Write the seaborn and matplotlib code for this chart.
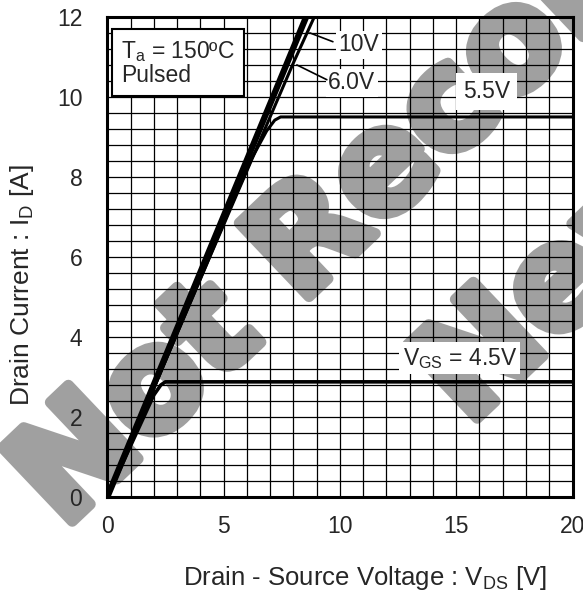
import numpy as np
import pandas as pd
import seaborn as sns
import matplotlib.pyplot as plt
import matplotlib.patheffects as pe

# curves (Ta = 150C, pulsed)
vds_10v = [0.0, 8.55]
id_10v = [0.0, 12.0]

vds_60v = [0.0, 4.0, 8.0, 8.9]
id_60v = [0.0, 5.45, 10.85, 12.0]

vds_55v = [0.0, 4.0, 5.3, 6.2, 6.85, 7.2, 7.45, 20.0]
id_55v = [0.0, 5.45, 7.25, 8.45, 9.15, 9.42, 9.5, 9.5]

vds_45v = [0.0, 1.0, 2.0, 2.3, 2.5, 20.0]
id_45v = [0.0, 1.28, 2.55, 2.8, 2.88, 2.88]

curve_widths = [4.5, 2.2, 2.2, 2.6]

sns.set_style('white')
plt.rcParams['font.family'] = ['Liberation Sans', 'DejaVu Sans']
plt.rcParams['mathtext.default'] = 'regular'

fig = plt.figure(figsize=(5.83, 6.04), dpi=100)
fig.patch.set_facecolor('white')
ax = fig.add_axes([0.184, 0.177, 0.798, 0.795])
ax.patch.set_visible(False)

curves = [(vds_10v, id_10v), (vds_60v, id_60v), (vds_55v, id_55v), (vds_45v, id_45v)]
for (xs, ys), lw in zip(curves, curve_widths):
    df = pd.DataFrame({'vds': xs, 'id': ys})
    sns.lineplot(data=df, x='vds', y='id', color='black', lw=lw, ax=ax,
                 estimator=None, sort=False, zorder=4)

ax.set_xlim(0, 20)
ax.set_ylim(0, 12)
ax.set_xticks(np.arange(0, 21, 5))
ax.set_xticks(np.arange(0, 21, 1), minor=True)
ax.set_yticks(np.arange(0, 13, 2))
ax.set_yticks(np.arange(0, 12.01, 0.4), minor=True)
ax.grid(True, which='both', color='black', lw=0.9)
ax.tick_params(which='both', length=0, labelsize=16.5)
ax.tick_params(axis='x', pad=13)
ax.tick_params(axis='y', pad=18)
for s in ax.spines.values():
    s.set_linewidth(2.2)
    s.set_color('black')
ax.set_xlabel('')
ax.set_ylabel('')

fig.text(0.626, 0.043, 'Drain - Source Voltage : V$_{DS}$ [V]', fontsize=18.5,
         ha='center', va='center')
fig.text(0.037, 0.528, 'Drain Current : I$_{D}$ [A]', fontsize=19,
         ha='center', va='center', rotation=90)

fs = 16.5
box = dict(boxstyle='square,pad=0.12', fc='white', ec='none')
ax.text(9.95, 11.3, '10V', fontsize=fs, ha='left', va='center', bbox=box, zorder=5)
ax.text(9.5, 10.35, '6.0V', fontsize=fs, ha='left', va='center', bbox=box, zorder=5)
ax.text(15.3, 10.13, '5.5V', fontsize=fs, ha='left', va='center',
        bbox=dict(boxstyle='square,pad=0.3', fc='white', ec='none'), zorder=5)
ax.text(12.7, 3.47, 'V$_{GS}$ = 4.5V', fontsize=fs, ha='left', va='center',
        bbox=dict(boxstyle='square,pad=0.15', fc='white', ec='none'), zorder=5)
ax.plot([8.71, 9.7], [11.6, 11.38], color='black', lw=1.2, zorder=5)
ax.plot([8.15, 9.44], [10.8, 10.43], color='black', lw=1.2, zorder=5)

ax.text(0.6, 10.85, 'T$_{a}$ = 150ºC\nPulsed', fontsize=fs, ha='left', va='center',
        linespacing=1.0,
        bbox=dict(boxstyle='square,pad=0.4', fc='white', ec='black', lw=1.5), zorder=5)

# watermark, drawn under the axes so the grid and curves stay on top
wm = dict(fontsize=100, family='DejaVu Sans', fontweight='bold', color='#a0a0a0',
          rotation=43.5, rotation_mode='anchor', ha='left', va='baseline', zorder=-1,
          path_effects=[pe.withStroke(linewidth=8, foreground='#a0a0a0')])
fig.text(63 / 583, 1 - 530 / 604, 'Not Recommended for', **wm)
fig.text(468 / 583, 1 - 427 / 604, 'New Designs', **wm)

fig.savefig('out.png', dpi=100)
